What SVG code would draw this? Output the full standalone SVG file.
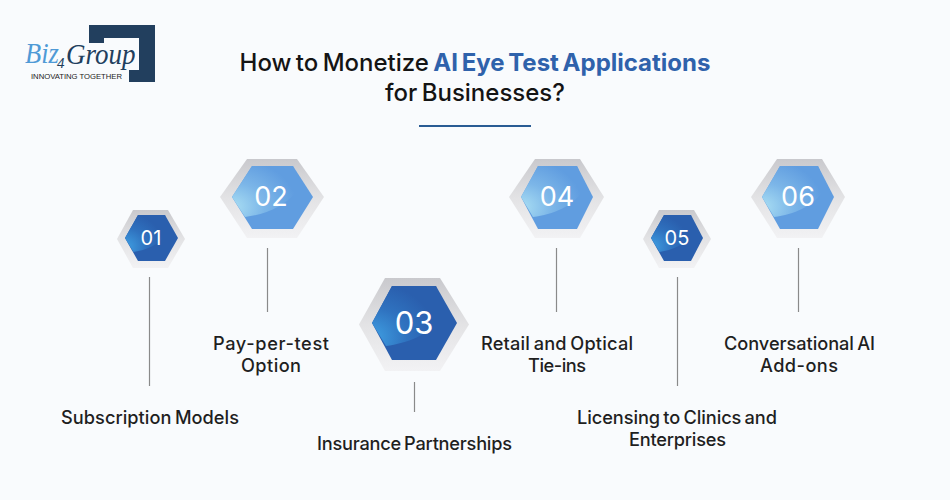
<svg xmlns="http://www.w3.org/2000/svg" width="950" height="500" viewBox="0 0 950 500">
<style>
text{font-family:"Inter","Liberation Sans",sans-serif}
.t{font-size:24px;font-weight:500;fill:#141414;word-spacing:-2px}
.l{font-size:18.2px;font-weight:500;fill:#1f1f1f;text-anchor:middle;word-spacing:-1.5px}
.n{fill:#fff;text-anchor:middle;font-weight:400}
.c{stroke:#8a8a8a;stroke-width:1.2;fill:none}
.s{font-family:"Liberation Serif",serif;font-style:italic}
.o{fill:url(#og)}
.dk{fill:#2a5fae}
.lt{fill:#609de0}
.ds{fill:url(#dsw)}
.ls{fill:url(#lsw)}
</style>
<defs>
<linearGradient id="og" x1="0" y1="0" x2="0" y2="1"><stop offset="0" stop-color="#c9c9cd"/><stop offset=".5" stop-color="#e3e3e5"/><stop offset="1" stop-color="#f2f2f4"/></linearGradient>
<radialGradient id="lsw" cx="0" cy=".8" r=".95"><stop offset="0" stop-color="#a9def3"/><stop offset=".5" stop-color="#7cb6e8"/><stop offset="1" stop-color="#609de0"/></radialGradient>
<radialGradient id="dsw" cx="0" cy=".85" r=".9"><stop offset="0" stop-color="#3f9fe2"/><stop offset=".55" stop-color="#2f72bf"/><stop offset="1" stop-color="#2a5fae"/></radialGradient>
</defs>
<rect width="950" height="500" fill="#f9fbfd"/>
<g id="logo">
<polygon points="89,25 155,25 155,82 129,82 129,70 139,70 139,38 104,38 104,43 89,43" fill="#223f5e"/>
<text class="s" x="25" y="63" font-size="26.500" fill="#4f9ad6" transform="translate(25,63) scale(1,1.08) translate(-25,-63)">Biz</text>
<text class="s" x="57" y="68" font-size="15" fill="#223f5e">4</text>
<text class="s" transform="translate(66,64) scale(1,1.07)" font-size="27" fill="#223f5e">Group</text>
<text x="31" y="79" font-size="7.7" fill="#222" textLength="91" style="font-family:'Liberation Sans',sans-serif">INNOVATING TOGETHER</text>
</g>
<g id="title">
<text class="t" x="475" y="71" text-anchor="middle">How to Monetize <tspan fill="#2f62ab" font-weight="700">AI Eye Test Applications</tspan></text>
<text class="t" x="475" y="101" text-anchor="middle">for Businesses?</text>
<line x1="419" y1="126" x2="531" y2="126" stroke="#2a5c94" stroke-width="2"/>
</g>
<g id="connectors">
<line class="c" x1="149.500" y1="277" x2="149.500" y2="386"/>
<line class="c" x1="267.500" y1="248" x2="267.500" y2="312"/>
<line class="c" x1="414.500" y1="382" x2="414.500" y2="412"/>
<line class="c" x1="556.500" y1="248" x2="556.500" y2="312"/>
<line class="c" x1="677.500" y1="277" x2="677.500" y2="386"/>
<line class="c" x1="798.500" y1="248" x2="798.500" y2="312"/>
</g>
<g id="node-01">
<polygon class="o" points="117,239 133,210 168,210 185,239 168,268 133,268"/>
<polygon class="dk" points="125,238 138,215 165,215 178,238 165,261 138,261"/>
<path class="ds" d="M133.500,252 C146,250 159,245 168,233 L165,215 L138,215 L125,238 Z"/>
<text class="n" x="151" y="245" font-size="20">01</text>
<text class="l" x="150" y="423.500" textLength="178">Subscription Models</text>
</g>
<g id="node-02">
<polygon class="o" points="220,197 247,159 297,159 324,197 297,238 247,238"/>
<polygon class="lt" points="232,197 252,166 293,166 313,197 293,229 252,229"/>
<path class="ls" d="M245,217 C265,214 285,208 300,187 L293,166 L252,166 L232,197 Z"/>
<text class="n" x="271" y="206" font-size="27">02</text>
<text class="l" x="271" y="350" textLength="116">Pay-per-test</text>
<text class="l" x="271" y="372" textLength="60">Option</text>
</g>
<g id="node-03">
<polygon class="o" points="359,324.500 385,278 440,278 469,324.500 440,371 385,371"/>
<polygon class="dk" points="372,323 392,286 436,286 457,323 436,360 392,360"/>
<path class="ds" d="M386,346 C407,343 428,336 443,316 L436,286 L392,286 L372,323 Z"/>
<text class="n" x="414" y="334" font-size="31">03</text>
<text class="l" x="414.500" y="449.500" textLength="195">Insurance Partnerships</text>
</g>
<g id="node-04">
<polygon class="o" points="509,197 535,159 580,159 604,197 580,238 535,238"/>
<polygon class="lt" points="521,197 538,166 577,166 593,197 577,229 538,229"/>
<path class="ls" d="M533,217 C553,214 572,208 586,187 L577,166 L538,166 L521,197 Z"/>
<text class="n" x="557" y="206" font-size="27">04</text>
<text class="l" x="557" y="350" textLength="152">Retail and Optical</text>
<text class="l" x="557" y="372" textLength="58">Tie-ins</text>
</g>
<g id="node-05">
<polygon class="o" points="643,239 659,210 694,210 711,239 694,268 659,268"/>
<polygon class="dk" points="651,238 664,215 691,215 703,238 691,261 664,261"/>
<path class="ds" d="M659.500,252 C672,250 685,245 694,233 L691,215 L664,215 L651,238 Z"/>
<text class="n" x="677" y="245" font-size="20">05</text>
<text class="l" x="677" y="423.500" textLength="200">Licensing to Clinics and</text>
<text class="l" x="677.500" y="445.500" textLength="97">Enterprises</text>
</g>
<g id="node-06">
<polygon class="o" points="751,197 777,159 822,159 845,197 822,238 777,238"/>
<polygon class="lt" points="762,197 780,166 818,166 834,197 818,229 780,229"/>
<path class="ls" d="M774,217 C794,214 812,208 827,187 L818,166 L780,166 L762,197 Z"/>
<text class="n" x="798" y="206" font-size="27">06</text>
<text class="l" x="799.500" y="350" textLength="151">Conversational AI</text>
<text class="l" x="799" y="372" textLength="78">Add-ons</text>
</g>
</svg>
